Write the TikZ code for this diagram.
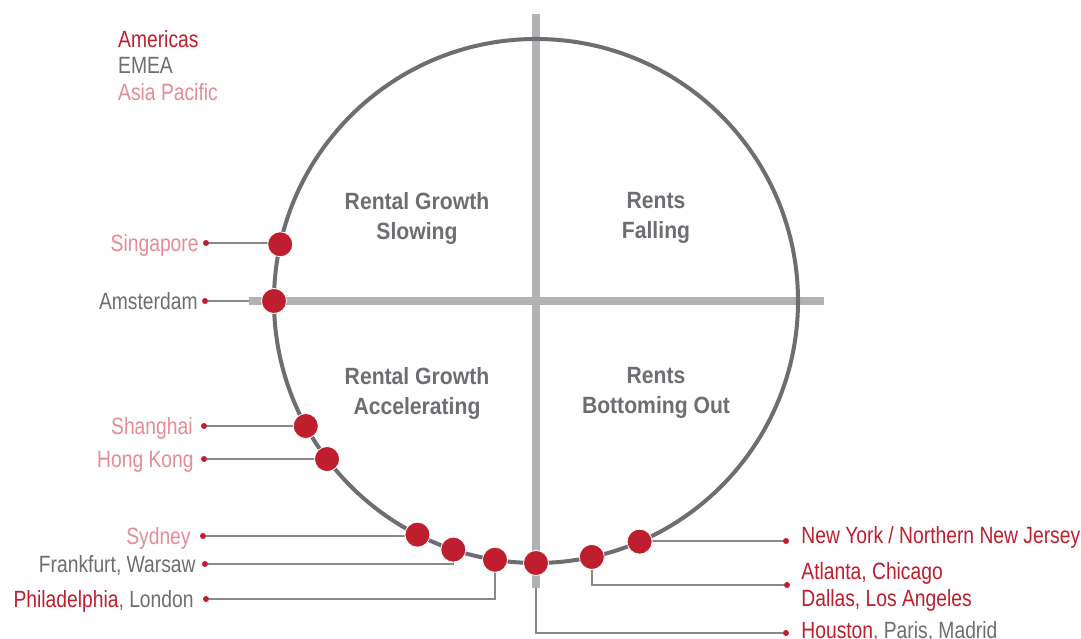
\documentclass[tikz,border=0pt]{standalone}
\usepackage{fontspec}
\setmainfont{Liberation Sans}[FakeStretch=0.82]
\newfontfamily\quadfont{Liberation Sans}[FakeStretch=0.9]
\usetikzlibrary{positioning}
\definecolor{amred}{HTML}{BE1E2D}
\definecolor{emgray}{HTML}{6D6E71}
\definecolor{appink}{HTML}{E58C96}
\definecolor{bargray}{HTML}{B1B2B4}
\definecolor{leadgray}{HTML}{88898B}

\begin{document}
\begin{tikzpicture}[x=1pt,y=1pt,
    bar/.style={draw=bargray,line width=8.7pt},
    ring/.style={draw=emgray,line width=4pt},
    market/.style={circle,fill=amred,draw=white,line width=0.8pt,minimum size=25pt,inner sep=0pt},
    pin/.style={circle,fill=amred,minimum size=6pt,inner sep=0pt},
    leader/.style={draw=leadgray,line width=1.4pt},
    city/.style={inner sep=0pt,text height=16.6pt,text depth=0pt,text=emgray,
      font=\fontsize{23.5}{27}\selectfont},
    quad/.style={align=center,inner sep=0pt,text=emgray,
      font=\quadfont\bfseries\fontsize{23.5}{30}\selectfont}]
    \fill[white] (0,0) rectangle (1081,639);
    \useasboundingbox (0,0) rectangle (1081,639);

    % clock centre and market positions on the ring
    \coordinate (ctr) at (536,338);
    \foreach \n/\a in {sg/167.5,am/180,sh/208.5,hk/217.1,sy/243.1,
                       fr/251.6,ph/261,ho/270,at/282.3,ny/293.3}
      \path (ctr) ++(\a:262) coordinate (\n mk);

    % legend
    \node[city,text=amred,anchor=west] (legam) at (118,600) {Americas};
    \node[city,below right=9.4pt and 0pt of legam.south west] (legem) {EMEA};
    \node[city,text=appink,below right=9.4pt and 0pt of legem.south west] (legap) {Asia Pacific};

    % left hand labels
    \node[pin] (sgpin) at (206,396) {};
    \node[city,text=appink,left=4pt of sgpin] (sglbl) {Singapore};
    \node[pin] (ampin) at (205,338) {};
    \node[city,left=4pt of ampin] (amlbl) {Amsterdam};
    \node[pin] (shpin) at (204,213) {};
    \node[city,text=appink,left=8pt of shpin] (shlbl) {Shanghai};
    \node[pin] (hkpin) at (204,180) {};
    \node[city,text=appink,left=7pt of hkpin] (hklbl) {Hong Kong};
    \node[pin] (sypin) at (203,103) {};
    \node[city,text=appink,left=9pt of sypin] (sylbl) {Sydney};
    \node[pin] (frpin) at (205,75) {};
    \node[city,left=6pt of frpin] (frlbl) {Frankfurt, Warsaw};
    \node[pin] (phpin) at (206,40) {};
    \node[city,left=9pt of phpin] (phlbl) {\textcolor{amred}{Philadelphia}, London};

    % right hand labels
    \node[pin] (nypin) at (786,98) {};
    \node[city,text=amred,right=12pt of nypin,yshift=6pt] (nylbl) {New York / Northern New Jersey};
    \node[pin] (atpin) at (787,54) {};
    \node[city,text=amred,right=11pt of atpin,yshift=13.5pt] (atlbl) {Atlanta, Chicago};
    \node[city,text=amred,right=11pt of atpin,yshift=-13.5pt] (dalbl) {Dallas, Los Angeles};
    \node[pin] (hopin) at (786,6) {};
    \node[city,right=12pt of hopin,yshift=3pt] (holbl) {\textcolor{amred}{Houston}, Paris, Madrid};

    % leader lines
    \foreach \n in {sg,am,sh,hk,sy,ny}
      \draw[leader] (\n pin) -- (\n pin -| \n mk);
    \foreach \n in {fr,ph,ho,at}
      \draw[leader] (\n pin) -| (\n mk);

    % axes and ring
    \draw[bar] (536,625) -- (536,51);
    \draw[bar] (249,338) -- (824,338);
    \draw[ring] (ctr) circle[radius=262];

    \foreach \n in {sg,am,sh,hk,sy,fr,ph,ho,at,ny}
      \node[market] (\n) at (\n mk) {};

    % quadrants
    \node[quad] (slow) at (417,421) {Rental Growth\\Slowing};
    \node[quad] (fall) at (656,421) {Rents\\Falling};
    \node[quad] (accel) at (417,246) {Rental Growth\\Accelerating};
    \node[quad] (bottom) at (656,246) {Rents\\Bottoming Out};
\end{tikzpicture}
\end{document}
